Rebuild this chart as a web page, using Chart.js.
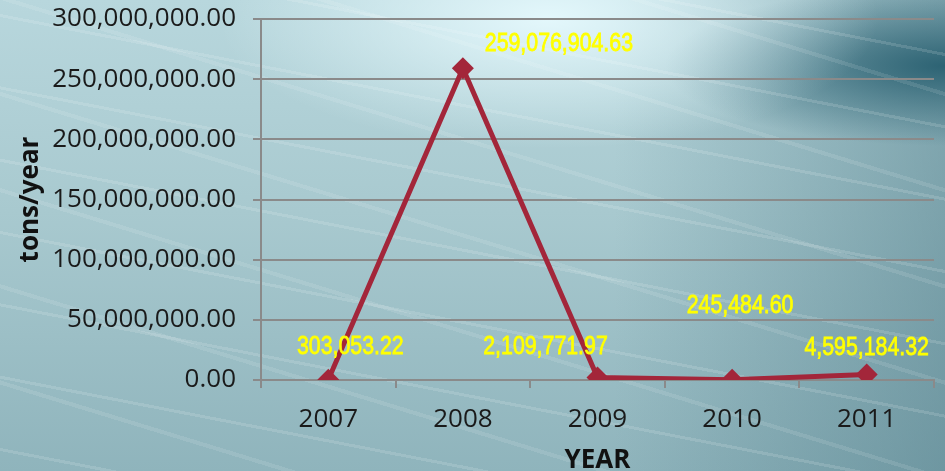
<!DOCTYPE html>
<html>
<head>
<meta charset="utf-8">
<script src="https://cdn.jsdelivr.net/npm/chart.js@4/dist/chart.umd.min.js"></script>
<style>
  html, body { margin: 0; padding: 0; }
  body {
    width: 945px; height: 471px; overflow: hidden;
    background:
      repeating-linear-gradient(191deg, rgba(255,255,255,0) 0 52px, rgba(255,255,255,0.13) 52px 55px, rgba(255,255,255,0) 55px 71px),
      repeating-linear-gradient(197deg, rgba(255,255,255,0) 0 88px, rgba(255,255,255,0.10) 88px 92px),
      radial-gradient(ellipse 330px 130px at 58% 4%, rgba(232,251,255,0.9), rgba(232,251,255,0) 100%),
      radial-gradient(ellipse 280px 80px at 100% 14%, rgba(40,95,112,0.95), rgba(40,95,112,0) 100%),
      linear-gradient(to left, rgba(70,115,128,0.45), rgba(70,115,128,0) 35%),
      linear-gradient(to bottom, #b8d7dd 0%, #a8c9cf 45%, #8fb4bc 100%);
  }
  #wrap { position: relative; width: 945px; height: 471px; }
</style>
</head>
<body>
<div id="wrap"><canvas id="chart"></canvas></div>
<script>
// values
var years = ['2007', '2008', '2009', '2010', '2011'];
var tonsPerYear = [303053.22, 259076904.63, 2109771.97, 245484.60, 4595184.32];
var yTicks = [0, 50000000, 100000000, 150000000, 200000000, 250000000, 300000000];

function money(v) {
    return v.toLocaleString('en-US', {minimumFractionDigits: 2, maximumFractionDigits: 2});
}

// yellow value labels, each nudged by hand like in the original
var valueLabels = {
    id: 'valueLabels',
    afterDatasetsDraw: function (chart, args, opts) {
        var ctx = chart.ctx;
        var meta = chart.getDatasetMeta(0);
        ctx.save();
        ctx.font = '26px "Liberation Sans", Arial, sans-serif';
        ctx.fillStyle = '#ffff00';
        ctx.strokeStyle = '#ffff00';
        ctx.lineWidth = 0.8;
        ctx.textAlign = 'center';
        ctx.textBaseline = 'alphabetic';
        meta.data.forEach(function (pt, i) {
            var off = opts.offsets[i];
            var txt = money(tonsPerYear[i]);
            ctx.save();
            // squeeze horizontally, the original uses a narrow face
            ctx.translate(pt.x + off[0], pt.y + off[1] + 9);
            ctx.scale(0.82, 1);
            ctx.fillText(txt, 0, 0);
            ctx.strokeText(txt, 0, 0);
            ctx.restore();
        });
        ctx.restore();
    }
};

var canvas = document.getElementById('chart');
var lineChart = new Chart(canvas.getContext('2d'), {
    type: 'line',
    data: {
        labels: years,
        datasets: [{
            label: 'tons/year',
            data: tonsPerYear,
            borderColor: '#a3263a',
            backgroundColor: '#a3263a',
            borderWidth: 5,
            pointStyle: 'rectRot',
            pointRadius: 11,
            pointBorderWidth: 0,
            tension: 0,
        }]
    },
    options: {
        responsive: true,
        maintainAspectRatio: false,
        animation: false,
        layout: {padding: {top: 19, right: 4, left: 0, bottom: 0}},
        plugins: {
            legend: {display: false},
            tooltip: {enabled: false},
            valueLabels: {
                offsets: [[22, -35], [96, -26], [-52, -32], [8, -76], [0, -28]]
            }
        },
        scales: {
            x: {
                offset: true,
                grid: {
                    offset: true,
                    drawOnChartArea: false,
                    drawTicks: true,
                    tickLength: 8,
                    color: '#8a8a8a',
                    lineWidth: 2,
                },
                border: {display: true, color: '#8a8a8a', width: 2},
                ticks: {
                    color: '#1a1a1a',
                    padding: 16,
                    font: {family: '"Open Sans", sans-serif', size: 26},
                },
                title: {
                    display: true,
                    text: 'YEAR',
                    color: '#111',
                    padding: {top: 0, bottom: 0},
                    font: {family: '"Open Sans", sans-serif', size: 26, weight: 'bold', lineHeight: 0.8},
                },
                afterFit: function (scale) { scale.height = 91; }
            },
            y: {
                min: 0,
                max: 300000000,
                afterBuildTicks: function (scale) {
                    scale.ticks = yTicks.map(function (v) { return {value: v}; });
                },
                grid: {
                    color: '#8a8a8a',
                    lineWidth: 2,
                    tickLength: 8,
                },
                border: {display: true, color: '#8a8a8a', width: 2},
                ticks: {
                    color: '#1a1a1a',
                    padding: 17,
                    font: {family: '"Open Sans", sans-serif', size: 26},
                    callback: function (v) { return money(v); }
                },
                title: {
                    display: true,
                    text: 'tons/year',
                    color: '#111',
                    padding: {top: 15, bottom: 0},
                    font: {family: '"Open Sans", sans-serif', size: 26, weight: 'bold'},
                },
                afterFit: function (scale) {
                    scale.width = 261;
                    scale.paddingTop = 0;
                    scale.paddingBottom = 0;
                }
            }
        }
    },
    plugins: [valueLabels]
});
</script>
</body>
</html>
